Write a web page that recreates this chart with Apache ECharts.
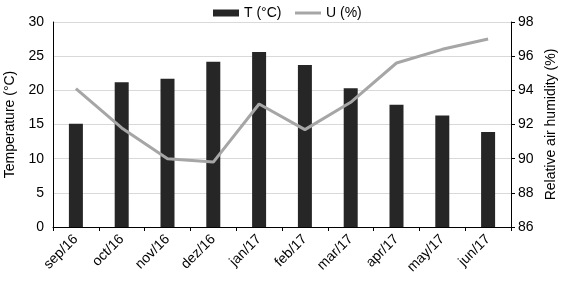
<!DOCTYPE html>
<html>
<head>
<meta charset="utf-8">
<script src="https://cdn.jsdelivr.net/npm/echarts@6/dist/echarts.min.js"></script>
<style>
  html, body { margin: 0; padding: 0; background: #fff; }
  #chart { width: 565px; height: 285px; }
</style>
</head>
<body>
<div id="chart"></div>
<script>
// months
const months = ['sep/16', 'oct/16', 'nov/16', 'dez/16', 'jan/17', 'feb/17', 'mar/17', 'apr/17', 'may/17', 'jun/17']
// temperature (°C)
const temperature = [15.1, 21.2, 21.7, 24.2, 25.6, 23.7, 20.3, 17.9, 16.3, 13.9]
// relative air humidity (%)
const humidity = [94.1, 91.8, 90.0, 89.8, 93.2, 91.7, 93.3, 95.6, 96.4, 97.0]

const chart = echarts.init(document.getElementById('chart'))
const font = 'Liberation Sans, Arial, sans-serif'

const option = {
  animation: false,
  textStyle: { fontFamily: font },
  grid: { left: 53, right: 54, top: 22, bottom: 58, containLabel: false, outerBoundsMode: 'none' },
  legend: {
    top: 1,
    left: 208,
    itemGap: 12,
    itemWidth: 26,
    itemHeight: 7,
    textStyle: { fontSize: 14, color: '#000', fontFamily: font },
    data: [
      { name: 'T (°C)', icon: 'rect' },
      { name: 'U (%)', itemStyle: { opacity: 0 }, lineStyle: { width: 3, color: '#a6a6a6' } }
    ]
  },
  xAxis: {
    type: 'category',
    data: months,
    boundaryGap: true,
    axisLine: { lineStyle: { color: '#000', width: 1 } },
    axisTick: { show: true, length: 4, lineStyle: { color: '#000' } },
    axisLabel: { rotate: 45, color: '#000', fontSize: 14, margin: 10, interval: 0 }
  },
  yAxis: [
    {
      type: 'value',
      min: 0, max: 30, interval: 5,
      name: 'Temperature (°C)',
      nameLocation: 'middle',
      nameGap: 33,
      nameTextStyle: { fontSize: 14, color: '#000' },
      axisLine: { show: true, lineStyle: { color: '#000' } },
      axisTick: { show: false },
      axisLabel: { color: '#000', fontSize: 14, margin: 9 },
      splitLine: { lineStyle: { color: '#d9d9d9' } }
    },
    {
      type: 'value',
      min: 86, max: 98, interval: 2,
      name: 'Relative air humidity (%)',
      nameLocation: 'middle',
      nameGap: 33,
      nameTextStyle: { fontSize: 14, color: '#000' },
      axisLine: { show: true, lineStyle: { color: '#000' } },
      axisTick: { show: true, length: 4, inside: false, lineStyle: { color: '#000' } },
      axisLabel: { color: '#000', fontSize: 14, margin: 7 },
      splitLine: { show: false }
    }
  ],
  series: [
    {
      name: 'T (°C)',
      type: 'bar',
      data: temperature,
      barWidth: 14,
      itemStyle: { color: '#262626' }
    },
    {
      name: 'U (%)',
      type: 'line',
      yAxisIndex: 1,
      data: humidity,
      symbol: 'none',
      lineStyle: { color: '#a6a6a6', width: 3 },
      itemStyle: { color: '#a6a6a6' }
    }
  ]
}
chart.setOption(option)
</script>
</body>
</html>
